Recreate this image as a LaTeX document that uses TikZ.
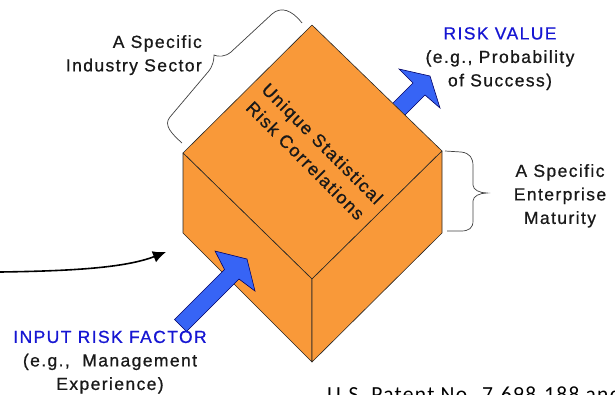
\documentclass[tikz,border=0pt]{standalone}
\usepackage{fontspec}
\usepackage{tikz}
\usetikzlibrary{arrows.meta}
\newfontfamily\notefont{Liberation Sans}[LetterSpace=8, FakeBold=0.8]
\newfontfamily\patentfont{Carlito}[LetterSpace=6]
\definecolor{cubeorange}{RGB}{249,153,57}
\definecolor{arrowblue}{RGB}{55,100,245}
\definecolor{riskblue}{RGB}{22,22,210}

\begin{document}
\begin{tikzpicture}[x=1pt,y=-1pt]
	\tikzset{face/.style={draw=black!85, line width=0.6pt, fill=cubeorange, line join=round}}
	\tikzset{blockarrow/.style={draw=black!60!blue, line width=0.6pt, fill=arrowblue}}
	\tikzset{note/.style={font=\notefont\fontsize{17.5}{23.5}\selectfont, text=black!90, inner sep=0pt, align=center}}
	\tikzset{curly/.style={draw=black!75, line width=0.7pt}}
	\tikzset{feed/.style={-{Latex[length=13pt,width=12pt]}, line width=1.6pt}}
	
	\clip (0,0) rectangle (615,394);
	
	\coordinate (c_back) at (312,25);
	\coordinate (c_left) at (183,153);
	\coordinate (c_right) at (442,151);
	\coordinate (c_front) at (312,279);
	\coordinate (c_leftb) at (183,233);
	\coordinate (c_frontb) at (312,362);
	\coordinate (c_rightb) at (442,233);
	
	% output arrow, behind the cube
	\draw[blockarrow] (383,113) -- (413,83) -- (399,69) -- (430,76) -- (440,108) -- (425,95) -- (395,125) -- cycle;
	
	\draw[face] (c_left) -- (c_back) -- (c_right) -- (c_front) -- cycle;
	\draw[face] (c_left) -- (c_front) -- (c_frontb) -- (c_leftb) -- cycle;
	\draw[face] (c_front) -- (c_right) -- (c_rightb) -- (c_frontb) -- cycle;
	
	% input arrow, in front
	\draw[blockarrow] (174.5,319.5) -- (224.5,269.5) -- (215,251) -- (247,259) -- (255,291) -- (239,279) -- (186.5,331.5) -- cycle;
	
	\node(corr) at (314,152) [note, rotate=-45, font=\notefont\fontsize{18}{24}\selectfont] {Unique Statistical\\Risk Correlations};
	
	\node(sector) at (202,35) [note, anchor=north east, align=right] {A Specific\\Industry Sector};
	\node(value) at (500,27) [note, anchor=north] {\textcolor{riskblue}{RISK VALUE}\\(e.g., Probability\\of Success)};
	\node(maturity) at (560,164) [note, anchor=north] {A Specific\\Enterprise\\Maturity};
	\node(input) at (110,330.5) [note, anchor=north] {\textcolor{riskblue}{INPUT RISK FACTOR}\\(e.g.,~~Management\\Experience)};
	\node(patent) at (327,401) [anchor=base west, inner sep=0pt, font=\patentfont\fontsize{21.5}{26}\selectfont] {U.S. Patent No. 7,698,188 and};
	
	% braces
	\draw[curly] (182,143) .. controls (172,134) and (163,125) .. (170,117) -- (208,72) .. controls (213,66) and (214,60) .. (214,55) .. controls (218,57) and (225,57) .. (231,52) -- (272,14) .. controls (281,6) and (292,10) .. (302,23);
	\draw[curly] (445,151) -- (461,152) .. controls (470,153) and (473,158) .. (473,166) -- (473,185) .. controls (473,190) and (480,193) .. (487,193) .. controls (480,193) and (473,196) .. (473,201) -- (473,221) .. controls (473,228) and (469,231) .. (461,231) -- (447,231);
	
	\coordinate (feed_start) at (0,272);
	\coordinate (feed_end) at (166,252);
	\draw[feed] (feed_start) .. controls (70,271) and (125,268) .. (feed_end);
	
\end{tikzpicture}
\end{document}
